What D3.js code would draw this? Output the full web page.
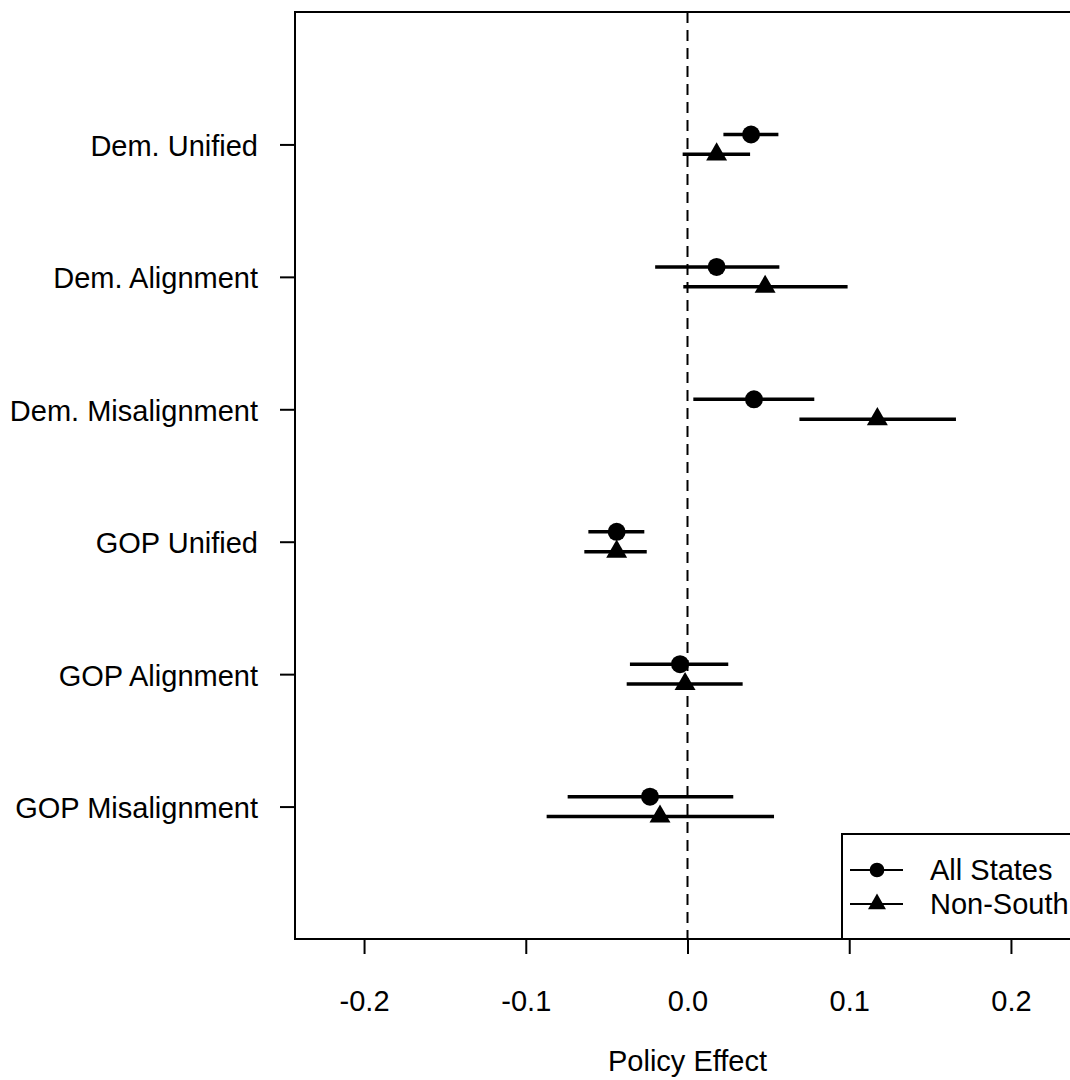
<!DOCTYPE html>
<html><head><meta charset="utf-8">
<script src="https://cdn.jsdelivr.net/npm/d3@7"></script>
<style>html,body{margin:0;padding:0;background:#fff;}svg{display:block;font-family:"Liberation Sans",Arial,sans-serif;}</style>
</head><body>
<svg id="chart" width="1070" height="1080"></svg>
<script>
const categories = ["Dem. Unified","Dem. Alignment","Dem. Misalignment","GOP Unified","GOP Alignment","GOP Misalignment"];
const seriesNames = ["All States","Non-South"];
const allEst = [0.0393, 0.0180, 0.0411, -0.0438, -0.0046, -0.0232];
const allLo  = [0.0222, -0.0200, 0.0036, -0.0613, -0.0356, -0.0741];
const allHi  = [0.0562, 0.0568, 0.0784, -0.0267, 0.0252, 0.0283];
const nsEst  = [0.0180, 0.0480, 0.1174, -0.0438, -0.0015, -0.0170];
const nsLo   = [-0.0030, -0.0026, 0.0692, -0.0638, -0.0376, -0.0871];
const nsHi   = [0.0387, 0.0990, 0.1660, -0.0252, 0.0341, 0.0535];
const xTicks = [-0.2, -0.1, 0.0, 0.1, 0.2];
const xTitle = "Policy Effect";

const svg = d3.select("#chart");
const L = 295, R = 1080, T = 12, B = 939;
const FS = 29;
const x = d3.scaleLinear().domain([-0.2427, 0.2427]).range([L, R]);
const y = d3.scaleLinear().domain([0, 7]).range([B, T]);
const catPos = categories.map((c, i) => categories.length - i);
const off = 0.075;

svg.append("rect").attr("x", L).attr("y", T).attr("width", R - L).attr("height", B - T)
  .attr("fill", "none").attr("stroke", "#000").attr("stroke-width", 2);

svg.append("line").attr("x1", x(0)).attr("x2", x(0)).attr("y1", T).attr("y2", B)
  .attr("stroke", "#000").attr("stroke-width", 2).attr("stroke-dasharray", "11,7");

const xAxis = d3.axisBottom(x).tickValues(xTicks).tickSize(15).tickSizeOuter(0);
const gx = svg.append("g").attr("transform", `translate(0,${B})`).call(xAxis);
gx.select(".domain").remove();
gx.selectAll(".tick line").attr("stroke", "#000").attr("stroke-width", 2);
gx.selectAll(".tick text").attr("font-size", FS).attr("fill", "#000").attr("dy", 0).attr("y", 72)
  .text(d => d3.format(".1f")(d).replace("−", "-"));

const gy = svg.append("g").attr("transform", `translate(${L},0)`)
  .call(d3.axisLeft(y).tickValues(catPos).tickFormat((d, i) => categories[i]).tickSize(15).tickSizeOuter(0));
gy.select(".domain").remove();
gy.selectAll(".tick line").attr("stroke", "#000").attr("stroke-width", 2);
gy.selectAll(".tick text").attr("font-size", FS).attr("fill", "#000").attr("x", -37).attr("dy", "0.38em");

svg.append("text").attr("x", x(0)).attr("y", 1071).attr("text-anchor", "middle")
  .attr("font-size", FS).attr("fill", "#000").text(xTitle);

const circ = d3.symbol().type(d3.symbolCircle).size(254);
const tri = d3.symbol().type(d3.symbolTriangle).size(190);

const series = [
  {est: allEst, lo: allLo, hi: allHi, dy: off, sym: circ},
  {est: nsEst, lo: nsLo, hi: nsHi, dy: -off, sym: tri}
];
series.forEach(s => {
  const g = svg.append("g");
  categories.forEach((c, i) => {
    const yy = y(catPos[i] + s.dy);
    g.append("line").attr("x1", x(s.lo[i])).attr("x2", x(s.hi[i])).attr("y1", yy).attr("y2", yy)
      .attr("stroke", "#000").attr("stroke-width", 3.5);
    g.append("path").attr("d", s.sym()).attr("transform", `translate(${x(s.est[i])},${yy})`).attr("fill", "#000");
  });
});

const lg = svg.append("g");
lg.append("rect").attr("x", 842).attr("y", 834).attr("width", 300).attr("height", B - 834)
  .attr("fill", "#fff").attr("stroke", "#000").attr("stroke-width", 2);
const legSyms = [d3.symbol().type(d3.symbolCircle).size(170), d3.symbol().type(d3.symbolTriangle).size(140)];
seriesNames.forEach((n, i) => {
  const yy = 870 + i * 34;
  lg.append("line").attr("x1", 850).attr("x2", 903).attr("y1", yy).attr("y2", yy).attr("stroke", "#000").attr("stroke-width", 2);
  lg.append("path").attr("d", legSyms[i]()).attr("transform", `translate(877,${yy})`).attr("fill", "#000");
  lg.append("text").attr("x", 930).attr("y", yy).attr("dy", "0.36em").attr("font-size", FS).attr("fill", "#000").text(n);
});
</script>
</body></html>
